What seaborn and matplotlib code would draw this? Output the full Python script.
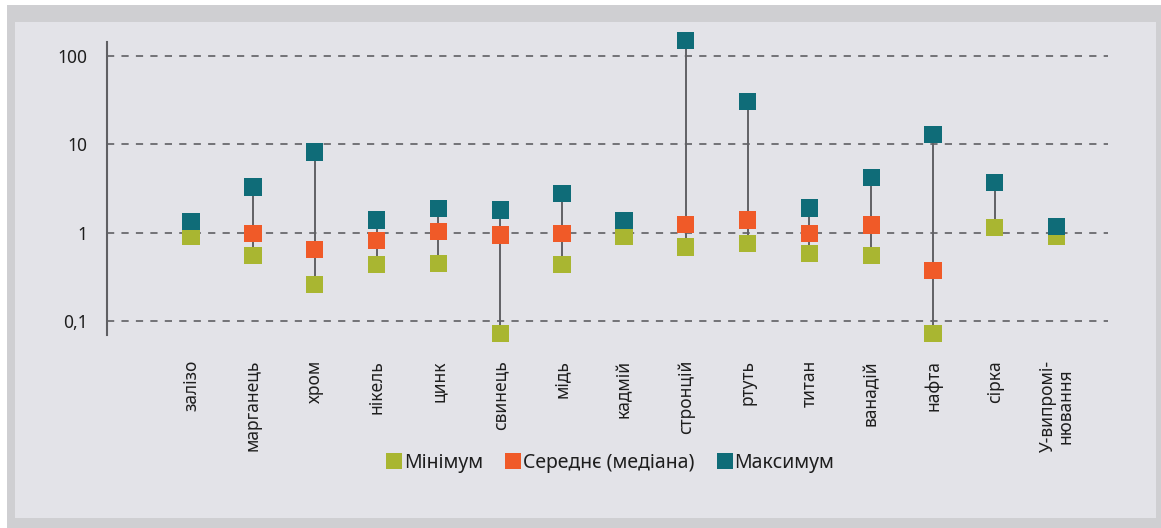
import numpy as np
import pandas as pd
import matplotlib
matplotlib.use("Agg")
import matplotlib.pyplot as plt
from matplotlib.patches import Rectangle
from matplotlib.lines import Line2D
import seaborn as sns

categories = ["залізо", "марганець", "хром", "нікель", "цинк", "свинець", "мідь",
              "кадмій", "стронцій", "ртуть", "титан", "ванадій", "нафта", "сірка",
              "У-випромі-\nнювання"]
minimum = [0.90, 0.55, 0.26, 0.44, 0.45, 0.072, 0.44, 0.90, 0.69, 0.76, 0.58, 0.55, 0.072, 1.14, 0.92]
median = [np.nan, 0.98, 0.65, 0.81, 1.03, 0.94, 0.98, np.nan, 1.24, 1.39, 0.98, 1.22, 0.37, np.nan, np.nan]
maximum = [1.35, 3.3, 8.2, 1.39, 1.87, 1.81, 2.78, 1.37, 149, 30.7, 1.9, 4.18, 12.9, 3.7, 1.18]
series_names = ["Мінімум", "Середнє (медіана)", "Максимум"]
y_ticks = [0.1, 1, 10, 100]
y_tick_labels = ["0,1", "1", "10", "100"]

colors = {"Мінімум": "#a9b631", "Середнє (медіана)": "#f05a28", "Максимум": "#0f6c78"}

sns.set_style("white")
plt.rcParams["font.family"] = ["Noto Sans", "DejaVu Sans"]

fig = plt.figure(figsize=(11.61, 5.28), dpi=100)
fig.patch.set_facecolor("white")
W, H = 1161, 528
# outer gray frame and inner panel
fig.patches.append(Rectangle((7 / W, 0), (W - 7) / W, (H - 5) / H, transform=fig.transFigure,
                             facecolor="#cfcfd2", edgecolor="none", zorder=-10))
fig.patches.append(Rectangle((15 / W, 10 / H), (1156 - 15) / W, (518 - 22) / H, transform=fig.transFigure,
                             facecolor="#e3e3e8", edgecolor="none", zorder=-9))

ax = fig.add_axes([107 / W, 1 - 335 / H, (1108 - 107) / W, (335 - 42) / H])
ax.set_facecolor("none")

x = np.arange(len(categories))
df = pd.DataFrame({"cat": categories, "x": x, "Мінімум": minimum,
                   "Середнє (медіана)": median, "Максимум": maximum})
long = df.melt(id_vars=["cat", "x"], value_vars=series_names, var_name="series", value_name="value").dropna()

ax.vlines(df["x"], df["Мінімум"], df["Максимум"], color="#616165", lw=1.4, zorder=2)
sns.scatterplot(data=long, x="x", y="value", hue="series", hue_order=series_names,
                palette=colors, marker="s", s=155, linewidth=0, ax=ax, zorder=3,
                clip_on=False, legend=False)

ax.set_yscale("log")
ax.set_ylim(0.0695, 144)
ax.set_xlim(-1.36, 14.83)
for t in y_ticks:
    ax.axhline(t, color="#6a6a6e", lw=1.3, ls=(0, (4, 4)), zorder=1)
ax.set_yticks(y_ticks)
ax.set_yticklabels(y_tick_labels)
ax.yaxis.set_minor_locator(matplotlib.ticker.NullLocator())
ax.tick_params(axis="y", length=6, width=1.0, color="#9a9a9e", labelsize=12.5, pad=8, labelcolor="#1e1e1e")
ax.set_xticks(x)
ax.set_xticklabels(categories, rotation=90, fontsize=12.5, color="#1e1e1e", va="top", ha="center",
                   linespacing=1.0)
ax.tick_params(axis="x", length=0, pad=18)
ax.set_xlabel("")
ax.set_ylabel("")
for s in ["top", "right", "bottom"]:
    ax.spines[s].set_visible(False)
ax.spines["left"].set_color("#5f5f63")
ax.spines["left"].set_linewidth(1.5)

handles = [Line2D([0], [0], marker="s", color="none", markerfacecolor=colors[n], markeredgewidth=0,
                  markersize=11) for n in series_names]
fig.legend(handles, series_names, loc="center", bbox_to_anchor=(610 / W, 1 - 463 / H), ncol=3,
           frameon=False, fontsize=14, handletextpad=0.05, columnspacing=1.1, handlelength=0.9,
           labelcolor="#1e1e1e")

fig.savefig("out.png", dpi=100)
